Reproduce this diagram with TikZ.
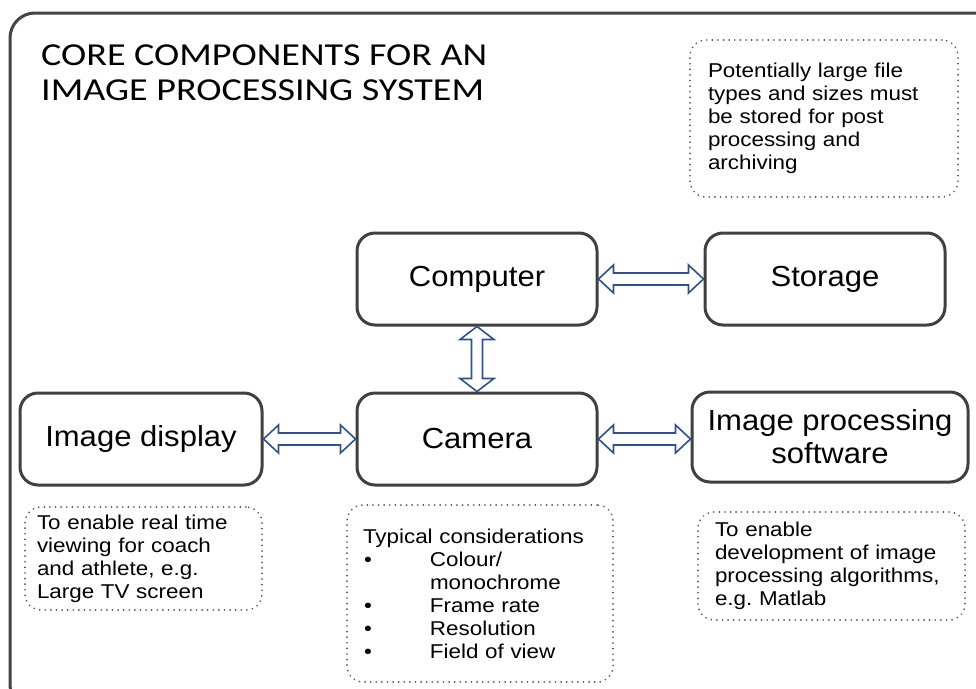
\documentclass[tikz,border=0pt]{standalone}
\usepackage{fontspec}
\setmainfont{Liberation Sans}
\newfontfamily\titlefont{Carlito}[FakeStretch=1.19]
\newfontfamily\notefont{Liberation Sans}[FakeStretch=1.12]
\newfontfamily\boxfont{Liberation Sans}[FakeStretch=1.07]
\usetikzlibrary{calc}
\definecolor{framegray}{RGB}{68,68,68}
\definecolor{boxgray}{RGB}{64,64,64}
\definecolor{dotgray}{RGB}{80,80,80}
\definecolor{arrblue}{RGB}{47,82,143}
\tikzset{
  compbox/.style={draw=boxgray, line width=3pt, rounded corners=18pt, fill=white,
    minimum width=240pt, minimum height=92pt, align=center,
    font=\boxfont\fontsize{29}{33}\selectfont},
  notebox/.style={draw=dotgray, line width=1.8pt, dash pattern=on 0.1pt off 5.5pt, line cap=round,
    rounded corners=16pt, align=left, inner sep=0pt,
    font=\notefont\fontsize{20}{23}\selectfont},
  dblarr/.style={draw=arrblue, line width=1.6pt, fill=white, line join=miter},
  titletext/.style={anchor=west, inner sep=0pt, font=\titlefont\fontsize{32}{36}\selectfont},
}
\newcommand\harrow[2]{%
  \draw[dblarr] let \p1=(#1.east), \p2=(#2.west) in
    (\x1,\y1) -- (\x1+15pt,\y1+14pt) -- (\x1+15pt,\y1+6pt) -- (\x2-15pt,\y1+6pt)
    -- (\x2-15pt,\y1+14pt) -- (\x2,\y1) -- (\x2-15pt,\y1-14pt) -- (\x2-15pt,\y1-6pt)
    -- (\x1+15pt,\y1-6pt) -- (\x1+15pt,\y1-14pt) -- cycle;}
\newcommand\varrow[2]{%
  \draw[dblarr] let \p1=(#1.south), \p2=(#2.north) in
    (\x1,\y1) -- (\x1-17pt,\y1-13pt) -- (\x1-5.5pt,\y1-13pt) -- (\x1-5.5pt,\y2+13pt)
    -- (\x1-17pt,\y2+13pt) -- (\x1,\y2) -- (\x1+17pt,\y2+13pt) -- (\x1+5.5pt,\y2+13pt)
    -- (\x1+5.5pt,\y1-13pt) -- (\x1+17pt,\y1-13pt) -- cycle;}
\begin{document}
\begin{tikzpicture}[x=1pt,y=-1pt]
\useasboundingbox (0,0) rectangle (976,688);
\fill[white] (0,0) rectangle (976,688);
% outer frame
\draw[framegray, line width=3pt, rounded corners=25pt] (10,13) rectangle (1000,710);

% title
\node[titletext] (t1) at (41,55) {CORE COMPONENTS FOR AN};
\node[titletext] (t2) at (41,90) {IMAGE PROCESSING SYSTEM};

% main boxes
\node[compbox] (comp) at (477,279) {Computer};
\node[compbox] (stor) at (825,279) {Storage};
\node[compbox, minimum width=242pt] (disp) at (141,439) {Image display};
\node[compbox] (cam) at (477,439) {Camera};
\node[compbox, minimum width=276pt, minimum height=90pt] (ips) at (830,437) {Image processing\\software};

% connectors
\harrow{comp}{stor}
\varrow{comp}{cam}
\harrow{disp}{cam}
\harrow{cam}{ips}

% notes
\node[notebox, minimum width=268pt, minimum height=157pt, text width=232pt] (nstor) at (824,118.5)
  {Potentially large file\\types and sizes must\\be stored for post\\processing and\\archiving};
\node[notebox, minimum width=237pt, minimum height=103pt, text width=213pt] (ndisp) at (143.5,558.5)
  {To enable real time\\viewing for coach\\and athlete, e.g.\\Large TV screen};
\node[notebox, minimum width=266pt, minimum height=177pt, text width=234pt] (ncam) at (480,593.5)
  {Typical considerations\\
   \makebox[67pt][l]{\hspace{1pt}\textbullet}Colour/\\
   \makebox[67pt][l]{}monochrome\\
   \makebox[67pt][l]{\hspace{1pt}\textbullet}Frame rate\\
   \makebox[67pt][l]{\hspace{1pt}\textbullet}Resolution\\
   \makebox[67pt][l]{\hspace{1pt}\textbullet}Field of view};
\node[notebox, minimum width=267pt, minimum height=108pt, text width=233pt] (nips) at (831.5,566)
  {To enable\\development of image\\processing algorithms,\\e.g.\ Matlab};
\end{tikzpicture}
\end{document}
